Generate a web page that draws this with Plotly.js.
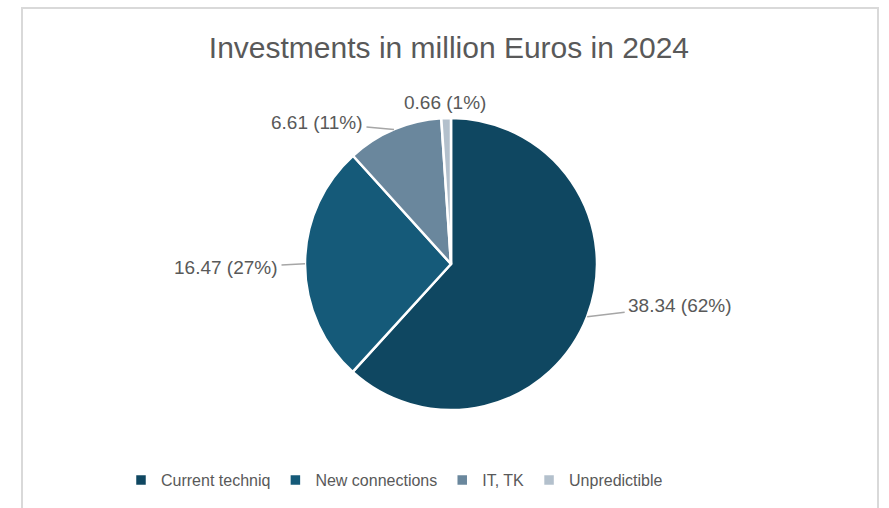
<!DOCTYPE html>
<html>
<head>
<meta charset="utf-8">
<script src="https://cdn.plot.ly/plotly-3.0.1.min.js"></script>
<style>
html,body{margin:0;padding:0;background:#ffffff;}
#chart{width:889px;height:508px;}
</style>
</head>
<body>
<div id="chart"></div>
<script>
// ---- data ----
const categories = ["Current techniq", "New connections", "IT, TK", "Unpredictible"];
const values = [38.34, 16.47, 6.61, 0.66];
const percentLabels = ["62%", "27%", "11%", "1%"];
const colors = ["#0f4761", "#155a79", "#6a879d", "#b3c0cc"];

// ---- layout geometry (styling) ----
const W = 889, H = 508;
const cx = 451, cy = 264, R = 146;
const domainX = [(cx - R) / W, (cx + R) / W];
const domainY = [1 - (cy + R) / H, 1 - (cy - R) / H];
// label offsets (pixels from slice edge point to label centre)
const labelOffsets = [[93, -11], [-79, 4], [-77, -7], [-1, -16]];

const total = values.reduce((a, b) => a + b, 0);
const annotations = [];
let cum = 0;
values.forEach((v, i) => {
  const mid = (cum + v / 2) / total * 2 * Math.PI; // clockwise from 12 o'clock
  cum += v;
  const px = cx + R * Math.sin(mid);
  const py = cy - R * Math.cos(mid);
  annotations.push({
    xref: 'paper', yref: 'paper',
    x: px / W, y: 1 - py / H,
    ax: labelOffsets[i][0], ay: labelOffsets[i][1],
    axref: 'pixel', ayref: 'pixel',
    text: values[i].toFixed(2) + ' (' + percentLabels[i] + ')',
    showarrow: true, arrowhead: 0, arrowwidth: 1.5,
    arrowcolor: i === 3 ? 'rgba(0,0,0,0)' : '#a6a6a6',
    standoff: 0, startstandoff: 2,
    font: {family: 'Liberation Sans, Arial, sans-serif', size: 19, color: '#595959'}
  });
});

const trace = {
  type: 'pie',
  labels: categories,
  values: values,
  sort: false,
  direction: 'clockwise',
  rotation: 0,
  textinfo: 'none',
  hoverinfo: 'label+value+percent',
  marker: {colors: colors, line: {color: '#ffffff', width: 2.5}},
  domain: {x: domainX, y: domainY}
};

const layout = {
  width: W, height: H,
  margin: {l: 0, r: 0, t: 0, b: 0},
  paper_bgcolor: '#ffffff',
  title: {
    text: 'Investments in million Euros in 2024',
    x: 0.505, xanchor: 'center', y: 1 - 47 / H, yanchor: 'middle',
    font: {family: 'Liberation Sans, Arial, sans-serif', size: 30, color: '#595959'}
  },
  showlegend: true,
  legend: {
    orientation: 'h',
    x: 0.5 - 50 / W, xanchor: 'center',
    y: 1 - 480 / H, yanchor: 'middle',
    font: {family: 'Liberation Sans, Arial, sans-serif', size: 16, color: '#595959'},
    itemwidth: 30,
    traceorder: 'normal'
  },
  annotations: annotations,
  shapes: [{
    type: 'rect', xref: 'paper', yref: 'paper',
    x0: 22 / W, x1: 878 / W, y0: -0.05, y1: 1 - 8 / H,
    line: {color: '#d9d9d9', width: 2}, fillcolor: 'rgba(0,0,0,0)', layer: 'below'
  }]
};

Plotly.newPlot('chart', [trace], layout, {displayModeBar: false, staticPlot: true});
</script>
</body>
</html>
